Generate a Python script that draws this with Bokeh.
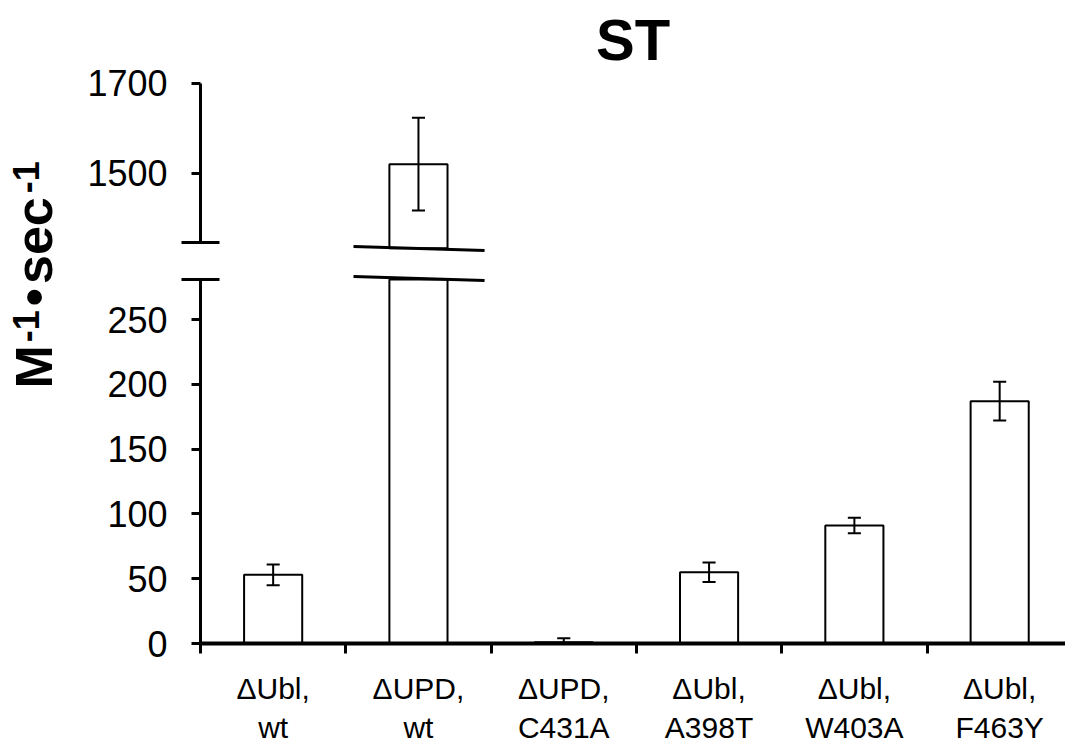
import math

from bokeh.plotting import figure
from bokeh.layouts import row, column
from bokeh.models import Range1d, FixedTicker, Label, ColumnDataSource
from bokeh.embed import file_html
from bokeh.resources import INLINE

# ---- data -------------------------------------------------------------
categories = ["ΔUbl,\nwt", "ΔUPD,\nwt", "ΔUPD,\nC431A",
              "ΔUbl,\nA398T", "ΔUbl,\nW403A", "ΔUbl,\nF463Y"]
rates = [53, 1520, 1, 55, 91, 187]          # M^-1 sec^-1
errors = [8, 103, 3, 7.5, 6, 15]
lower_ticks = [0, 50, 100, 150, 200, 250]
upper_ticks = [1500, 1700]

# ---- broken-axis geometry -------------------------------------------
LOW_MAX = 281        # top of the lower axis segment
HIGH_MIN = 1345      # bottom of the upper axis segment
UPPER_CUT = 1333     # where the tall bar resumes above the break
X_END = 5.953
BAR_W = 0.4
CAP = 0.045
FONT = "Liberation Sans"

xs = [i + 0.5 for i in range(len(categories))]


def style_y(p, ticks, lo, hi, cap_at):
    ax = p.yaxis[0]
    ax.bounds = (lo, hi)
    ax.ticker = FixedTicker(ticks=ticks, minor_ticks=[cap_at])
    ax.axis_line_width = 3
    ax.major_tick_line_width = 3
    ax.minor_tick_line_width = 3
    ax.major_tick_out = 9
    ax.major_tick_in = 0
    ax.minor_tick_out = 19
    ax.minor_tick_in = 19
    ax.major_label_text_font = FONT
    ax.major_label_text_font_size = "36px"
    ax.major_label_text_color = "black"
    ax.major_label_standoff = 14


# ---- upper segment ----------------------------------------------------
upper = figure(width=1005, height=254, output_backend="svg", toolbar_location=None,
               x_range=Range1d(0, X_END), y_range=Range1d(1319.3, 1883.7),
               x_axis_location=None, min_border_left=140, min_border_right=0,
               min_border_top=0, min_border_bottom=0)
upper.outline_line_color = None
upper.grid.visible = False
style_y(upper, upper_ticks, HIGH_MIN, 1700, HIGH_MIN)

up_idx = [i for i, v in enumerate(rates) if v > LOW_MAX]
up_src = ColumnDataSource(dict(
    x=[xs[i] for i in up_idx],
    top=[rates[i] for i in up_idx],
    lo=[rates[i] - errors[i] for i in up_idx],
    hi=[rates[i] + errors[i] for i in up_idx],
    xl=[xs[i] - CAP for i in up_idx],
    xr=[xs[i] + CAP for i in up_idx],
))
upper.vbar(x="x", width=BAR_W, bottom=UPPER_CUT, top="top", source=up_src,
           fill_color="white", line_color="black", line_width=2)
upper.segment(x0="x", y0="lo", x1="x", y1="hi", source=up_src, line_color="black", line_width=2)
upper.segment(x0="xl", y0="lo", x1="xr", y1="lo", source=up_src, line_color="black", line_width=2)
upper.segment(x0="xl", y0="hi", x1="xr", y1="hi", source=up_src, line_color="black", line_width=2)
# break stroke across the tall bar
upper.segment(x0=[1.053], y0=[1337.1], x1=[1.955], y1=[1328.2], line_color="black", line_width=3)

upper.add_layout(Label(x=X_END / 2, y=1798.1, text="ST", text_font=FONT,
                       text_font_size="58px", text_font_style="bold",
                       text_align="center", text_baseline="middle",
                       text_color="black"))

# ---- lower segment ----------------------------------------------------
lower = figure(width=1005, height=497, output_backend="svg", toolbar_location=None,
               x_range=upper.x_range, y_range=Range1d(0, 300.2),
               min_border_left=140, min_border_right=0,
               min_border_top=0, min_border_bottom=108)
lower.outline_line_color = None
lower.grid.visible = False
style_y(lower, lower_ticks, 0, LOW_MAX, LOW_MAX)

xa = lower.xaxis[0]
xa.ticker = FixedTicker(ticks=xs, minor_ticks=list(range(len(categories) + 1)))
xa.major_label_overrides = {x: c for x, c in zip(xs, categories)}
xa.axis_line_width = 4
xa.major_tick_out = 0
xa.major_tick_in = 0
xa.minor_tick_out = 10
xa.minor_tick_in = 0
xa.minor_tick_line_width = 3
xa.major_label_text_font = FONT
xa.major_label_text_font_size = "30px"
xa.major_label_text_color = "black"
xa.major_label_text_line_height = 1.2
xa.major_label_standoff = 18

lo_src = ColumnDataSource(dict(
    x=xs,
    top=[min(v, LOW_MAX) for v in rates],
    lo=[v - e for v, e in zip(rates, errors)],
    hi=[v + e for v, e in zip(rates, errors)],
    xl=[x - CAP for x in xs],
    xr=[x + CAP for x in xs],
))
lower.vbar(x="x", width=BAR_W, bottom=0, top="top", source=lo_src,
           fill_color="white", line_color="black", line_width=2)
low_err = ColumnDataSource(dict(
    {k: [val for val, r in zip(lo_src.data[k], rates) if r <= LOW_MAX] for k in lo_src.data}
))
lower.segment(x0="x", y0="lo", x1="x", y1="hi", source=low_err, line_color="black", line_width=2)
lower.segment(x0="xl", y0="lo", x1="xr", y1="lo", source=low_err, line_color="black", line_width=2)
lower.segment(x0="xl", y0="hi", x1="xr", y1="hi", source=low_err, line_color="black", line_width=2)
lower.segment(x0=[1.053], y0=[283.2], x1=[1.955], y1=[280.1], line_color="black", line_width=3)

# ---- rotated y-axis title ---------------------------------------------
lab = figure(width=60, height=751, output_backend="svg", toolbar_location=None,
             x_range=Range1d(0, 60), y_range=Range1d(0, 751),
             x_axis_location=None, y_axis_location=None,
             min_border=0)
lab.outline_line_color = None
lab.grid.visible = False

# (text, font size, centre line x, advance along the text, gap after)
pieces = [("M", 52, 33, 43.3, 3), ("-1", 36, 25, 32.0, 4), ("•", 52, 33, 18.2, 4),
          ("sec", 52, 33, 86.7, 4), ("-1", 36, 25, 32.0, 0)]
y = 751 - 388
for txt, size, cx, adv, gap in pieces:
    lab.add_layout(Label(x=cx, y=y, text=txt, angle=math.pi / 2, text_font=FONT,
                         text_font_size=f"{size}px", text_font_style="bold",
                         text_align="left", text_baseline="middle",
                         text_color="black"))
    y += adv + gap

layout = row(lab, column(upper, lower))
open("out.html", "w").write(file_html(layout, INLINE))
